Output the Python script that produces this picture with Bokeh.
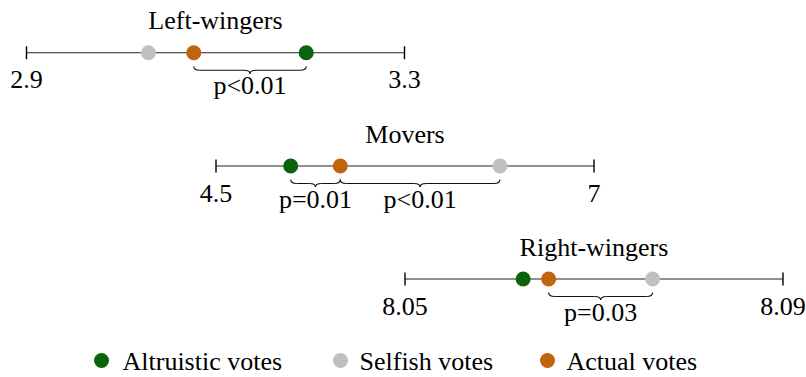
from bokeh.plotting import figure
from bokeh.models import Range1d
from bokeh.core.properties import value
from bokeh.embed import file_html
from bokeh.resources import INLINE

# ---- data ----
groups = ["Left-wingers", "Movers", "Right-wingers"]
axis_min = [2.9, 4.5, 8.05]
axis_max = [3.3, 7.0, 8.09]
tick_labels = [["2.9", "3.3"], ["4.5", "7"], ["8.05", "8.09"]]
series_names = ["Altruistic votes", "Selfish votes", "Actual votes"]
altruistic = [3.196, 4.994, 8.0625]
selfish = [3.029, 6.378, 8.0762]
actual = [3.077, 5.322, 8.0652]
# significance braces: (group index, from series, to series, label)
brace_group = [0, 1, 1, 2]
brace_from = ["actual", "altruistic", "actual", "actual"]
brace_to = ["altruistic", "actual", "selfish", "selfish"]
brace_label = ["p<0.01", "p=0.01", "p<0.01", "p=0.03"]

# ---- style / layout ----
colors = {"altruistic": "#0b640b", "selfish": "#c0c0c0", "actual": "#bf640f"}
series_keys = ["altruistic", "selfish", "actual"]
series_vals = {"altruistic": altruistic, "selfish": selfish, "actual": actual}
FONT = value("Liberation Serif")
FS = "26px"
W, H = 806, 377
X0, X1 = 0, W          # page pixel coordinates
Y0, Y1 = 0, H
axis_px = [(26.0, 404.0), (215.5, 593.5), (404.5, 782.5)]
line_y = [52.3, 165.5, 278.5]
DY = -8  # text baseline correction

p = figure(width=W, height=H, x_range=Range1d(X0, X1), y_range=Range1d(Y1, Y0),
           x_axis_type=None, y_axis_type=None, output_backend="svg",
           toolbar_location=None, min_border=0)
p.grid.visible = False
p.outline_line_color = None

for i, g in enumerate(groups):
    v0, v1 = axis_min[i], axis_max[i]
    p0, p1 = axis_px[i]
    k = (v1 - v0) / (p1 - p0)
    name = f"g{i}"
    p.extra_x_ranges[name] = Range1d(v0 - (p0 - X0) * k, v0 + (X1 - p0) * k)
    ly = line_y[i]
    p.segment(x0=[v0], y0=[ly], x1=[v1], y1=[ly], x_range_name=name,
              line_color="#222222", line_width=1.1)
    p.segment(x0=[v0, v1], y0=[ly - 6.5] * 2, x1=[v0, v1], y1=[ly + 6.5] * 2,
              x_range_name=name, line_color="black", line_width=1.4)
    p.text(x=[v0, v1], y=[ly + 35 + DY] * 2, text=tick_labels[i], x_range_name=name,
           text_align="center", text_baseline="alphabetic", text_font=FONT,
           text_font_size=FS, text_color="black")
    p.text(x=[(v0 + v1) / 2], y=[ly - 24 + DY], text=[g], x_range_name=name,
           text_align="center", text_baseline="alphabetic", text_font=FONT,
           text_font_size=FS, text_color="black")
    # braces for this group
    for j, bg in enumerate(brace_group):
        if bg != i:
            continue
        a = series_vals[brace_from[j]][i]
        b = series_vals[brace_to[j]][i]
        a, b = min(a, b), max(a, b)
        m = (a + b) / 2
        r = 6 * k
        ya, yh, yt = ly + 13.5, ly + 17.5, ly + 21
        p.quadratic(x0=[a, m - r, m, b - r], y0=[ya, yh, yt, yh],
                    x1=[a + r, m, m + r, b], y1=[yh, yt, yh, ya],
                    cx=[a, m, m, b], cy=[yh, yh, yh, yh],
                    x_range_name=name, line_color="#111111", line_width=1.1)
        p.segment(x0=[a + r, m + r], y0=[yh, yh], x1=[m - r, b - r], y1=[yh, yh],
                  x_range_name=name, line_color="#111111", line_width=1.1)
        p.text(x=[m], y=[ly + 41 + DY], text=[brace_label[j]], x_range_name=name,
               text_align="center", text_baseline="alphabetic", text_font=FONT,
               text_font_size=FS, text_color="black")
    # points
    for key in ["selfish", "actual", "altruistic"]:
        p.scatter(x=[series_vals[key][i]], y=[ly], x_range_name=name, size=15,
                  marker="circle", fill_color=colors[key], line_color=None)

# legend (manual, horizontal)
leg_dot_x = [101, 340, 547]
leg_text_x = [122, 359, 566]
p.scatter(x=leg_dot_x, y=[360] * 3, size=15, marker="circle",
          fill_color=[colors[k] for k in series_keys], line_color=None)
p.text(x=leg_text_x, y=[369 + DY] * 3, text=series_names, text_align="left",
       text_baseline="alphabetic", text_font=FONT, text_font_size=FS,
       text_color="black")

open("out.html", "w").write(file_html(p, INLINE))
